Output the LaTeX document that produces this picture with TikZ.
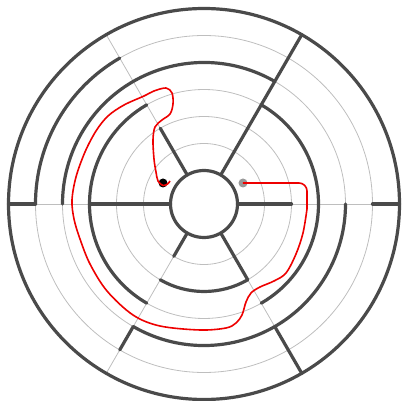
\documentclass[tikz,border=0pt]{standalone}
\usetikzlibrary{calc}
\definecolor{wallgray}{HTML}{4A4A4A}
\definecolor{gridgray}{HTML}{BEBEBE}
\definecolor{routered}{HTML}{EE0000}
\definecolor{goalgray}{HTML}{9A9A9A}

\begin{document}
\begin{tikzpicture}[
  x=1pt, y=1pt,
  wall/.style={draw=wallgray, line width=3.2pt, line cap=round},
  grid/.style={draw=gridgray, line width=0.8pt},
  route/.style={draw=routered, line width=1.6pt, line join=round},
  dot/.style={circle, inner sep=0pt, minimum size=9pt}
]
\useasboundingbox (-204,-197) rectangle (198,204);
% thin grid
\foreach \k in {1,...,5}
  \draw[grid] (0,0) circle[radius=33.5+27*\k];
\foreach \a in {0,60,...,300}
  \draw[grid] (\a:33.5) -- (\a:195.5);
% walls
\draw[wall] (0,0) circle[radius=33.5];
\draw[wall] (0,0) circle[radius=195.5];
\foreach \r/\s/\e in {87.5/240/300, 114.5/120/240, 114.5/-60/60,
                      141.5/60/180, 141.5/240/360, 168.5/120/180}
  \draw[wall] (\s:\r) arc[start angle=\s, end angle=\e, radius=\r];
\foreach \a/\p/\q in {0/33.5/87.5, 0/168.5/195.5, 60/33.5/195.5,
                      120/33.5/87.5, 180/33.5/114.5, 180/168.5/195.5,
                      240/33.5/60.5, 240/141.5/168.5,
                      300/33.5/87.5, 300/141.5/195.5}
  \draw[wall] (\a:\p) -- (\a:\q);
% start and goal
\node[dot, fill=black] (start) at (-41,21) {};
\node[dot, fill=goalgray] (goal) at (39,21) {};
% route
\draw[route] plot[smooth, tension=0.55] coordinates {
    (-34,23) (-36.5,20) (-41,18.5) (-46,23) (-48,32) (-50,45) (-51,64)
    (-49,77) (-42,84) (-34,90) (-31,100) (-32,111) (-38,116) (-50,113)
    (-60,108) (-80,99) (-96,88) (-108,73) (-119,52) (-128,27) (-132,4)
    (-130,-15) (-124,-35) (-114,-60) (-97,-87) (-71,-111) (-44,-122)
    (-4,-126) (22,-124) (32,-119) (38,-111) (42,-98) (47,-89) (56,-83)
    (70,-77) (82,-69) (92,-50) (99,-29) (103,-5)}
  [rounded corners=8pt] -- (103,21) -- (goal.center);
\end{tikzpicture}
\end{document}
